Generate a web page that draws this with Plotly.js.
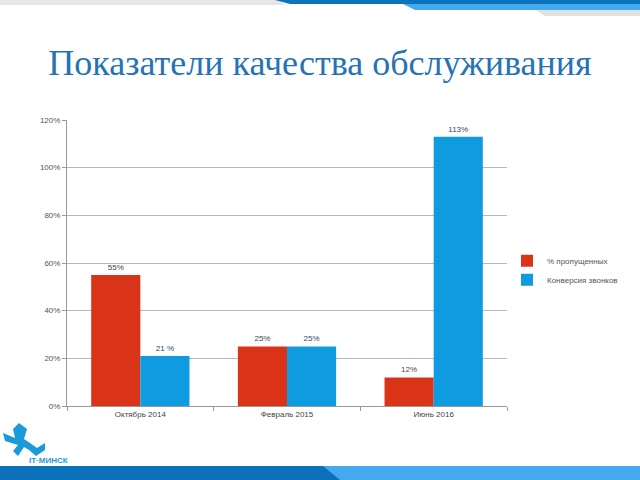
<!DOCTYPE html>
<html>
<head>
<meta charset="utf-8">
<script src="https://cdn.plot.ly/plotly-3.0.1.min.js"></script>
<style>html,body{margin:0;padding:0;background:#fff;}#chart{width:640px;height:480px;}</style>
</head>
<body>
<div id="chart"></div>
<script>
const categories = ["Октябрь 2014", "Февраль 2015", "Июнь 2016"];
const missedPct = [0.55, 0.25, 0.12];
const missedLabels = ["55%", "25%", "12%"];
const conversionPct = [0.21, 0.25, 1.13];
const conversionLabels = ["21 %", "25%", "113%"];
const seriesNames = ["% пропущенных", "Конверсия звонков"];
const yTickVals = [0, 0.2, 0.4, 0.6, 0.8, 1.0, 1.2];
const yTickText = ["0%", "20%", "40%", "60%", "80%", "100%", "120%"];

const L = 67, R = 507, T = 120, B = 406;
const px = x => (x - L) / (R - L);
const py = y => (B - y) / (B - T);
function path(pts) {
  return "M" + pts.map(p => px(p[0]) + "," + py(p[1])).join(" L") + " Z";
}

const traces = [
  {type: "bar", name: seriesNames[0], x: categories, y: missedPct, text: missedLabels,
   textposition: "outside", cliponaxis: false,
   textfont: {family: "Liberation Sans, Arial, sans-serif", size: 8, color: "#444"},
   marker: {color: "#d93418"}},
  {type: "bar", name: seriesNames[1], x: categories, y: conversionPct, text: conversionLabels,
   textposition: "outside", cliponaxis: false,
   textfont: {family: "Liberation Sans, Arial, sans-serif", size: 8, color: "#2b4a66"},
   marker: {color: "#0e9be0"}}
];

const shapes = [
  {type: "path", xref: "paper", yref: "paper", path: path([[0,0],[280,0],[285,5],[0,5]]), fillcolor: "#e6e6e6", line: {width: 0}, layer: "below"},
  {type: "path", xref: "paper", yref: "paper", path: path([[520,0],[640,0],[640,16],[545,16]]), fillcolor: "#e2e2e2", line: {width: 0}, layer: "below"},
  {type: "path", xref: "paper", yref: "paper", path: path([[395,0],[640,0],[640,10],[415,10]]), fillcolor: "#45a9ef", line: {width: 0}, layer: "below"},
  {type: "path", xref: "paper", yref: "paper", path: path([[275,0],[640,0],[640,4],[290,4]]), fillcolor: "#0a74bd", line: {width: 0}, layer: "below"},
  {type: "path", xref: "paper", yref: "paper", path: path([[0,466],[640,466],[640,480],[0,480]]), fillcolor: "#45a9ef", line: {width: 0}, layer: "below"},
  {type: "path", xref: "paper", yref: "paper", path: path([[0,466],[323,466],[340,480],[0,480]]), fillcolor: "#0b71b8", line: {width: 0}, layer: "below"},
  {type: "path", xref: "paper", yref: "paper", path: path([[19,423],[27,429],[24,439],[30,443],[37,448],[45,443],[45,450],[36,456],[29,450],[24,447],[18,456],[13,451],[18,445],[5,441],[3,433],[15,438],[13,429]]), fillcolor: "#1a9ad9", line: {width: 0}}
];

const layout = {
  width: 640, height: 480,
  margin: {l: L, r: 640 - R, t: T, b: 480 - B},
  paper_bgcolor: "#ffffff", plot_bgcolor: "#ffffff",
  title: {text: "Показатели качества обслуживания", x: 0.5, xref: "container", xanchor: "center",
          y: 1 - 62/480, yanchor: "middle",
          font: {family: "Liberation Serif, Times New Roman, serif", size: 36, color: "#2673b4"}},
  bargap: 0.33, bargroupgap: 0,
  barmode: "group",
  showlegend: true,
  legend: {x: 1.0, y: 0.475, xanchor: "left", yanchor: "middle", bgcolor: "rgba(0,0,0,0)",
           font: {family: "Liberation Sans, Arial, sans-serif", size: 8, color: "#555"},
           itemwidth: 30, tracegroupgap: 0},
  xaxis: {type: "category", showline: true, linecolor: "#999", linewidth: 1, showgrid: false,
          ticks: "outside", tickson: "boundaries", ticklen: 4, tickcolor: "#999",
          tickfont: {family: "Liberation Sans, Arial, sans-serif", size: 8, color: "#444"}},
  yaxis: {range: [0, 1.2], tickvals: yTickVals, ticktext: yTickText, showline: true, linecolor: "#999", linewidth: 1,
          showgrid: true, gridcolor: "#b8b8b8", gridwidth: 1, ticks: "outside", ticklen: 4, tickcolor: "#999",
          zeroline: false,
          tickfont: {family: "Liberation Sans, Arial, sans-serif", size: 8, color: "#555"}},
  shapes: shapes,
  annotations: [
    {xref: "paper", yref: "paper", x: px(27), y: py(460), text: "<b>IT·МИНСК</b>", showarrow: false,
     xanchor: "left", yanchor: "middle", font: {family: "Liberation Sans, Arial, sans-serif", size: 8, color: "#1a9ad9"}}
  ]
};

Plotly.newPlot("chart", traces, layout, {displayModeBar: false, staticPlot: true});
</script>
</body>
</html>
